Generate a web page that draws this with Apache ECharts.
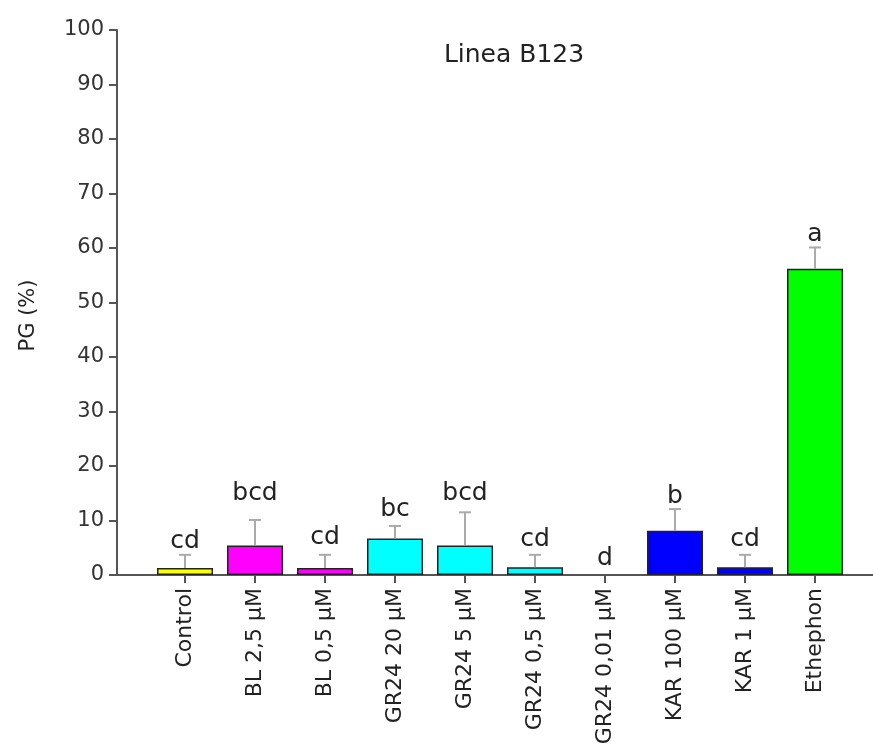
<!DOCTYPE html>
<html>
<head>
    <meta charset="utf-8" />
    <title>Linea B123</title>
    <script type="text/javascript" src="https://cdn.jsdelivr.net/npm/echarts@6/dist/echarts.min.js"></script>
    <style>
        html, body { margin: 0; padding: 0; background: #fff; }
    </style>
</head>
<body>
<div id="main" style="width: 873px;height:744px;"></div>
<script type="text/javascript">
    // data
    var categories = ['Control', 'BL 2,5 µM', 'BL 0,5 µM', 'GR24 20 µM', 'GR24 5 µM',
        'GR24 0,5 µM', 'GR24 0,01 µM', 'KAR 100 µM', 'KAR 1 µM', 'Ethephon'];
    var means = [1.3, 5.4, 1.3, 6.7, 5.4, 1.4, 0, 8.1, 1.4, 56.2];
    var errors = [2.4, 4.7, 2.4, 2.3, 6.1, 2.3, 0, 4.0, 2.3, 3.9];
    var letters = ['cd', 'bcd', 'cd', 'bc', 'bcd', 'cd', 'd', 'b', 'cd', 'a'];
    // value (PG %) at which each letter's baseline sits
    var letterLevels = [4.6, 13.4, 5.3, 10.5, 13.4, 5.0, 1.5, 12.8, 5.0, 61.0];
    var barColors = ['#ffff00', '#ff00ff', '#ff00ff', '#00ffff', '#00ffff',
        '#00ffff', '#00ffff', '#0000ff', '#0000ff', '#00ff00'];
    var yTicks = [0, 100, 10]; // min, max, step

    var font = 'DejaVu Sans';
    var myChart = echarts.init(document.getElementById('main'));

    var barData = means.map(function (v, i) {
        // a zero bar is not drawn at all in the original
        return { value: v, itemStyle: { color: barColors[i], borderWidth: v > 0 ? 1.5 : 0 } };
    });
    var errData = means.map(function (v, i) {
        return [i, v, v + errors[i], letterLevels[i]];
    });

    var option = {
        animation: false,
        title: {
            text: 'Linea B123',
            left: 509,
            top: 38,
            textAlign: 'center',
            textStyle: { fontFamily: font, fontSize: 25, fontWeight: 'normal', color: '#222' }
        },
        grid: [
            { left: 150, right: 23, top: 30, bottom: 169, outerBoundsMode: 'none' },
            { left: 117, right: 0, top: 30, bottom: 169, outerBoundsMode: 'none' }   // only for the long x axis line
        ],
        xAxis: [
            {
                gridIndex: 0,
                type: 'category',
                data: categories,
                axisLine: { show: false },
                axisTick: { show: true, alignWithLabel: true, length: 8, lineStyle: { color: '#555', width: 2 } },
                axisLabel: {
                    rotate: 90,
                    margin: 13,
                    interval: 0,
                    fontFamily: font,
                    fontSize: 22,
                    color: '#222'
                }
            },
            {
                gridIndex: 1,
                type: 'value',
                min: 0,
                max: 1,
                axisLine: { show: true, lineStyle: { color: '#555', width: 2 } },
                axisTick: { show: false },
                axisLabel: { show: false },
                splitLine: { show: false }
            }
        ],
        yAxis: [
            {
                gridIndex: 0,
                type: 'value',
                min: yTicks[0],
                max: yTicks[1],
                interval: yTicks[2],
                offset: 33,
                name: 'PG (%)',
                nameLocation: 'middle',
                nameGap: 78,
                nameTextStyle: { fontFamily: font, fontSize: 21, color: '#222', padding: [0, 26, 0, 0] },
                axisLine: { show: true, lineStyle: { color: '#555', width: 2 } },
                axisTick: { show: true, length: 8, lineStyle: { color: '#555', width: 2 } },
                axisLabel: { margin: 13, fontFamily: font, fontSize: 21, color: '#333' },
                splitLine: { show: false }
            },
            { gridIndex: 1, show: false, min: 0, max: 1 }
        ],
        series: [
            {
                name: 'PG',
                type: 'bar',
                xAxisIndex: 0,
                yAxisIndex: 0,
                barWidth: 56,
                itemStyle: { borderColor: '#222', borderWidth: 1.5 },
                data: barData
            },
            {
                name: 'error',
                type: 'custom',
                xAxisIndex: 0,
                yAxisIndex: 0,
                z: 3,
                data: errData,
                renderItem: function (params, api) {
                    var base = api.coord([api.value(0), api.value(1)]);
                    var top = api.coord([api.value(0), api.value(2)]);
                    var lab = api.coord([api.value(0), api.value(3)]);
                    var children = [];
                    if (api.value(2) > api.value(1)) {
                        var lineStyle = { stroke: '#aaa', lineWidth: 2 };
                        children.push({
                            type: 'line',
                            shape: { x1: top[0], y1: base[1], x2: top[0], y2: top[1] },
                            style: lineStyle
                        });
                        children.push({
                            type: 'line',
                            shape: { x1: top[0] - 6, y1: top[1], x2: top[0] + 6, y2: top[1] },
                            style: lineStyle
                        });
                    }
                    children.push({
                        type: 'text',
                        style: {
                            text: letters[params.dataIndex],
                            x: lab[0],
                            y: lab[1] + 4,
                            align: 'center',
                            verticalAlign: 'bottom',
                            font: '25px "DejaVu Sans"',
                            fill: '#222'
                        }
                    });
                    return { type: 'group', children: children };
                }
            }
        ]
    };
    myChart.setOption(option);
</script>
</body>
</html>
